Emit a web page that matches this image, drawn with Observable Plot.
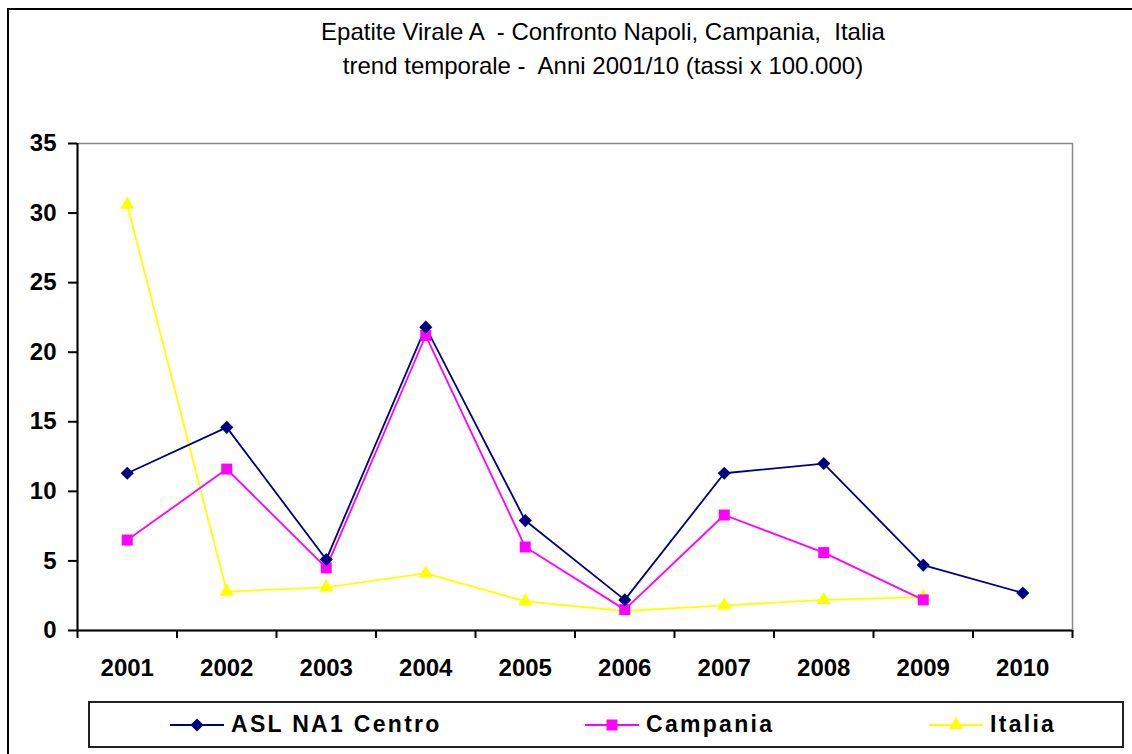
<!DOCTYPE html>
<html>
<head>
<meta charset="utf-8">
<script src="https://cdn.jsdelivr.net/npm/d3@7"></script>
<script src="https://cdn.jsdelivr.net/npm/@observablehq/plot@0.6"></script>
<style>
  html, body { margin: 0; padding: 0; background: #fff; }
  #wrap { position: relative; width: 1132px; height: 754px; overflow: hidden; font-family: "Liberation Sans", Arial, sans-serif; }
  #outer { position: absolute; left: 7px; top: 8px; width: 1140px; height: 760px; border: 2px solid #000; box-sizing: border-box; }
  .title { position: absolute; left: 0; width: 1206px; text-align: center; font-size: 24px; line-height: 28px; color: #000; white-space: pre; }
  #chart { position: absolute; left: 0; top: 0; }
  #legend { position: absolute; left: 88px; top: 701px; width: 1036px; height: 47px; border: 2px solid #222; box-sizing: border-box; }
  .item { position: absolute; top: 0; height: 43px; display: flex; align-items: center; }
  .item span { font-weight: bold; font-size: 23px; letter-spacing: 2.3px; margin-left: 6px; }
</style>
</head>
<body>
<div id="wrap">
  <div id="outer"></div>
  <div class="title" id="t1" style="top:18px"></div>
  <div class="title" id="t2" style="top:52px"></div>
  <div id="chart"></div>
  <div id="legend"></div>
</div>
<script>
const titleLine1 = "Epatite Virale A  - Confronto Napoli, Campania,  Italia";
const titleLine2 = "trend temporale -  Anni 2001/10 (tassi x 100.000)";
const years = [2001, 2002, 2003, 2004, 2005, 2006, 2007, 2008, 2009, 2010];
const seriesNames = ["ASL NA1 Centro", "Campania", "Italia"];
const aslValues = [11.3, 14.6, 5.1, 21.8, 7.9, 2.2, 11.3, 12.0, 4.7, 2.7];
const campaniaValues = [6.5, 11.6, 4.5, 21.2, 6.0, 1.5, 8.3, 5.6, 2.2, null];
const italiaValues = [30.6, 2.8, 3.1, 4.1, 2.1, 1.4, 1.8, 2.2, 2.4, null];
const yTicks = [0, 5, 10, 15, 20, 25, 30, 35];
const colors = ["#000080", "#FF00FF", "#FFFF00"];
const symbols = ["diamond2", "square", "triangle"];
const radii = [5.9, 6.2, 5.3];

document.getElementById("t1").textContent = titleLine1;
document.getElementById("t2").textContent = titleLine2;

const allValues = [aslValues, campaniaValues, italiaValues];
const rows = [];
seriesNames.forEach((s, i) => {
  allValues[i].forEach((v, j) => {
    if (v != null) rows.push({series: s, year: years[j], value: v});
  });
});
const boundaries = [years[0] - 0.5, ...years.map(y => y + 0.5)];

const marks = [
  Plot.frame({stroke: "#888", strokeWidth: 1.5}),
  Plot.axisY({ticks: yTicks, label: null, tickSize: 9, tickPadding: 12, fontSize: 24, fontWeight: "bold", tickFormat: d => String(d), stroke: "#000", strokeWidth: 2}),
  Plot.axisX({ticks: years, label: null, tickSize: 0, tickPadding: 28, fontSize: 24, fontWeight: "bold", tickFormat: d => String(d)}),
  Plot.axisX({ticks: boundaries, label: null, tickSize: 8, tickFormat: () => "", stroke: "#000", strokeWidth: 2}),
  Plot.ruleY([0], {stroke: "#000", strokeWidth: 2}),
  Plot.ruleX([boundaries[0]], {stroke: "#000", strokeWidth: 2})
];
seriesNames.slice().reverse().forEach((s) => {
  const i = seriesNames.indexOf(s);
  const d = rows.filter(r => r.series === s);
  marks.push(Plot.line(d, {x: "year", y: "value", stroke: colors[i], strokeWidth: 1.8}));
});
seriesNames.slice().reverse().forEach((s) => {
  const i = seriesNames.indexOf(s);
  const d = rows.filter(r => r.series === s);
  marks.push(Plot.dot(d, {x: "year", y: "value", symbol: () => symbols[i], fill: colors[i], stroke: "none", r: radii[i]}));
});

const chart = Plot.plot({
  width: 1132,
  height: 700,
  marginLeft: 77,
  marginRight: 60,
  marginTop: 143,
  marginBottom: 70,
  style: {fontFamily: "'Liberation Sans', Arial, sans-serif", color: "#000", background: "transparent", overflow: "visible"},
  x: {type: "linear", domain: [boundaries[0], boundaries[boundaries.length - 1]], axis: null},
  y: {domain: [0, 35], axis: null},
  symbol: {type: "identity"},
  marks
});
document.getElementById("chart").appendChild(chart);

// Legend
const legend = document.getElementById("legend");
const legendX = [79, 494, 838];
seriesNames.forEach((s, i) => {
  const div = document.createElement("div");
  div.className = "item";
  div.style.left = legendX[i] + "px";
  const svg = d3.create("svg").attr("width", 56).attr("height", 20);
  svg.append("line").attr("x1", 1).attr("x2", 55).attr("y1", 10).attr("y2", 10).attr("stroke", colors[i]).attr("stroke-width", 1.8);
  const symType = {diamond2: d3.symbolDiamond2, square: d3.symbolSquare, triangle: d3.symbolTriangle}[symbols[i]];
  svg.append("path").attr("transform", "translate(28,10)").attr("d", d3.symbol(symType, Math.PI * radii[i] * radii[i])()).attr("fill", colors[i]);
  div.appendChild(svg.node());
  const span = document.createElement("span");
  span.textContent = s;
  div.appendChild(span);
  legend.appendChild(div);
});
</script>
</body>
</html>
